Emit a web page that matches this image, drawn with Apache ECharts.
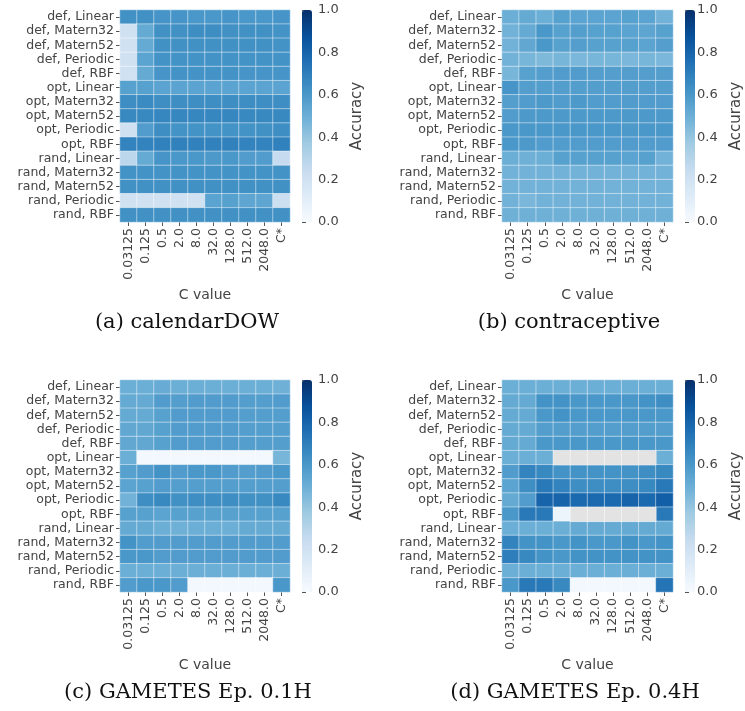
<!DOCTYPE html>
<html>
<head>
<meta charset="utf-8">
<script src="https://cdn.jsdelivr.net/npm/echarts@6/dist/echarts.min.js"></script>
<style>html,body{margin:0;padding:0;background:#fff;}#chart{width:745px;height:711px;}</style>
</head>
<body>
<div id="chart"></div>
<script>
const rowLabels = ['def, Linear','def, Matern32','def, Matern52','def, Periodic','def, RBF',
  'opt, Linear','opt, Matern32','opt, Matern52','opt, Periodic','opt, RBF',
  'rand, Linear','rand, Matern32','rand, Matern52','rand, Periodic','rand, RBF'];
const cLabels = ['0.03125','0.125','0.5','2.0','8.0','32.0','128.0','512.0','2048.0','C*'];
const colorbarTicks = [0, 0.2, 0.4, 0.6, 0.8, 1.0];
const captions = ['(a) calendarDOW', '(b) contraceptive', '(c) GAMETES Ep. 0.1H', '(d) GAMETES Ep. 0.4H'];

// null = missing result (drawn grey)
const accCalendarDOW = [
  [0.63,0.63,0.61,0.61,0.60,0.60,0.61,0.60,0.60,0.61],
  [0.20,0.52,0.63,0.63,0.64,0.64,0.63,0.63,0.63,0.62],
  [0.20,0.52,0.63,0.63,0.63,0.63,0.63,0.63,0.63,0.62],
  [0.20,0.55,0.62,0.62,0.62,0.62,0.62,0.62,0.62,0.62],
  [0.20,0.52,0.61,0.62,0.62,0.62,0.62,0.61,0.61,0.61],
  [0.56,0.56,0.55,0.55,0.55,0.55,0.55,0.55,0.55,0.55],
  [0.64,0.65,0.64,0.64,0.64,0.64,0.64,0.64,0.64,0.64],
  [0.66,0.66,0.67,0.67,0.67,0.67,0.67,0.66,0.66,0.66],
  [0.20,0.58,0.64,0.62,0.62,0.62,0.62,0.62,0.63,0.64],
  [0.68,0.68,0.69,0.69,0.69,0.69,0.69,0.68,0.68,0.69],
  [0.28,0.52,0.61,0.60,0.60,0.59,0.60,0.58,0.58,0.25],
  [0.62,0.62,0.62,0.62,0.62,0.62,0.62,0.62,0.62,0.62],
  [0.63,0.63,0.63,0.63,0.63,0.63,0.63,0.63,0.63,0.63],
  [0.20,0.20,0.20,0.20,0.20,0.55,0.56,0.54,0.54,0.22],
  [0.63,0.63,0.63,0.63,0.63,0.63,0.63,0.63,0.63,0.63]
];
const accContraceptive = [
  [0.50,0.52,0.50,0.56,0.55,0.55,0.55,0.56,0.55,0.48],
  [0.48,0.52,0.60,0.56,0.57,0.56,0.56,0.55,0.54,0.56],
  [0.48,0.53,0.60,0.56,0.57,0.56,0.56,0.56,0.55,0.57],
  [0.48,0.47,0.45,0.47,0.46,0.47,0.47,0.46,0.47,0.46],
  [0.47,0.56,0.57,0.58,0.58,0.57,0.57,0.57,0.57,0.57],
  [0.61,0.57,0.57,0.57,0.57,0.57,0.57,0.57,0.57,0.57],
  [0.57,0.58,0.59,0.58,0.59,0.58,0.58,0.58,0.58,0.58],
  [0.58,0.59,0.59,0.59,0.59,0.59,0.59,0.59,0.59,0.59],
  [0.60,0.60,0.60,0.60,0.60,0.60,0.60,0.59,0.60,0.60],
  [0.60,0.59,0.58,0.58,0.58,0.58,0.58,0.58,0.58,0.58],
  [0.50,0.49,0.50,0.56,0.56,0.56,0.56,0.55,0.56,0.48],
  [0.48,0.48,0.48,0.48,0.48,0.48,0.48,0.48,0.48,0.48],
  [0.48,0.48,0.48,0.48,0.48,0.48,0.48,0.48,0.48,0.48],
  [0.48,0.46,0.48,0.48,0.48,0.48,0.48,0.48,0.48,0.48],
  [0.49,0.49,0.49,0.49,0.49,0.49,0.49,0.49,0.49,0.49]
];
const accGametes01 = [
  [0.50,0.50,0.51,0.50,0.50,0.50,0.50,0.50,0.50,0.49],
  [0.52,0.52,0.58,0.57,0.58,0.58,0.58,0.57,0.57,0.58],
  [0.52,0.52,0.56,0.58,0.58,0.58,0.58,0.57,0.57,0.57],
  [0.53,0.53,0.56,0.58,0.58,0.58,0.58,0.57,0.57,0.57],
  [0.53,0.53,0.56,0.58,0.58,0.58,0.58,0.57,0.57,0.57],
  [0.50,0.02,0.02,0.02,0.02,0.02,0.02,0.02,0.02,0.47],
  [0.56,0.58,0.62,0.58,0.60,0.60,0.58,0.57,0.58,0.60],
  [0.55,0.56,0.58,0.57,0.57,0.57,0.57,0.57,0.57,0.57],
  [0.48,0.64,0.66,0.63,0.64,0.64,0.64,0.63,0.63,0.66],
  [0.56,0.56,0.55,0.56,0.56,0.56,0.56,0.56,0.56,0.56],
  [0.52,0.52,0.50,0.49,0.50,0.50,0.50,0.52,0.52,0.52],
  [0.62,0.58,0.58,0.58,0.58,0.58,0.58,0.58,0.58,0.58],
  [0.60,0.60,0.58,0.58,0.58,0.58,0.58,0.58,0.58,0.58],
  [0.50,0.50,0.50,0.50,0.50,0.50,0.50,0.50,0.50,0.50],
  [0.58,0.60,0.60,0.58,0.02,0.02,0.02,0.02,0.02,0.60]
];
const accGametes04 = [
  [0.50,0.50,0.50,0.50,0.50,0.50,0.50,0.50,0.50,0.50],
  [0.52,0.52,0.62,0.62,0.60,0.60,0.60,0.60,0.62,0.64],
  [0.52,0.52,0.60,0.62,0.60,0.60,0.60,0.60,0.60,0.60],
  [0.52,0.52,0.57,0.57,0.57,0.57,0.57,0.57,0.57,0.57],
  [0.52,0.52,0.60,0.60,0.60,0.60,0.60,0.60,0.60,0.60],
  [0.50,0.50,0.50,null,null,null,null,null,null,0.50],
  [0.58,0.68,0.66,0.62,0.62,0.62,0.62,0.62,0.64,0.66],
  [0.55,0.64,0.72,0.68,0.64,0.64,0.64,0.64,0.66,0.72],
  [0.52,0.58,0.80,0.80,0.78,0.78,0.78,0.80,0.78,0.82],
  [0.60,0.72,0.72,0.05,null,null,null,null,null,0.72],
  [0.50,0.50,0.50,0.50,0.52,0.52,0.52,0.52,0.52,0.52],
  [0.68,0.62,0.62,0.60,0.62,0.60,0.60,0.62,0.60,0.62],
  [0.70,0.66,0.62,0.60,0.62,0.62,0.62,0.62,0.62,0.62],
  [0.50,0.50,0.50,0.50,0.50,0.50,0.50,0.50,0.50,0.50],
  [0.60,0.72,0.72,0.66,0.02,0.02,0.02,0.02,0.02,0.74]
];

const panels = [accCalendarDOW, accContraceptive, accGametes01, accGametes04];
const blues = ['#f7fbff','#deebf7','#c6dbef','#9ecae1','#6baed6','#4292c6','#2171b5','#08519c','#08306b'];

// layout
const layout = [
  {left:120, top:10, width:170, cbLeft:302, capX:187},
  {left:502, top:10, width:171, cbLeft:685, capX:569},
  {left:120, top:380, width:170, cbLeft:302, capX:188},
  {left:502, top:380, width:171, cbLeft:685, capX:575}
];
const H = 212;
const txt = '#444';
const font = 'DejaVu Sans';

const grid = [], xAxis = [], yAxis = [], series = [], visualMap = [], graphic = [];
panels.forEach((vals, p) => {
  const L = layout[p];
  // heatmap grid
  grid.push({left:L.left, top:L.top, width:L.width, height:H});
  xAxis.push({type:'category', gridIndex:2*p, data:cLabels,
    axisLine:{show:false}, axisTick:{show:true, alignWithLabel:true, length:4, lineStyle:{color:'#555'}},
    axisLabel:{rotate:90, interval:0, color:txt, fontSize:12.5, fontFamily:font, margin:6},
    splitLine:{show:false},
    name:'C value', nameLocation:'middle', nameGap:66,
    nameTextStyle:{color:txt, fontSize:14, fontFamily:font}});
  yAxis.push({type:'category', gridIndex:2*p, data:rowLabels, inverse:true,
    axisLine:{show:false}, axisTick:{show:true, alignWithLabel:true, length:4, lineStyle:{color:'#555'}},
    axisLabel:{interval:0, color:txt, fontSize:12.5, fontFamily:font, margin:6},
    splitLine:{show:false}});
  // colorbar axis grid
  grid.push({left:L.cbLeft, top:L.top, width:10, height:H});
  xAxis.push({type:'value', gridIndex:2*p+1, show:false, min:0, max:1});
  yAxis.push({type:'value', gridIndex:2*p+1, position:'right', min:colorbarTicks[0],
    max:colorbarTicks[colorbarTicks.length-1], interval:0.2,
    axisLine:{show:false}, axisTick:{show:true, length:4, lineStyle:{color:'#555'}},
    axisLabel:{color:txt, fontSize:13, fontFamily:font, margin:6, formatter:v => v.toFixed(1)},
    splitLine:{show:false},
    name:'Accuracy', nameLocation:'middle', nameGap:38, nameRotate:90,
    nameTextStyle:{color:txt, fontSize:15, fontFamily:font}});

  const data = [], nanData = [];
  vals.forEach((row, r) => row.forEach((v, c) => {
    if (v === null) nanData.push([c, r, 0]);
    else data.push([c, r, v]);
  }));
  const sIdx = series.length;
  series.push({type:'heatmap', xAxisIndex:2*p, yAxisIndex:2*p, data:data,
    itemStyle:{borderColor:'rgba(255,255,255,0.45)', borderWidth:1},
    emphasis:{disabled:true}, silent:true});
  series.push({type:'heatmap', xAxisIndex:2*p, yAxisIndex:2*p, data:nanData,
    itemStyle:{color:'#e3e3e3', borderColor:'rgba(255,255,255,0.45)', borderWidth:1},
    emphasis:{disabled:true}, silent:true});
  series.push({type:'line', xAxisIndex:2*p+1, yAxisIndex:2*p+1, data:[], silent:true});
  visualMap.push({type:'continuous', min:0, max:1, seriesIndex:sIdx, calculable:false,
    orient:'vertical', left:L.cbLeft, top:L.top, itemWidth:10, itemHeight:H, padding:0,
    text:null, showLabel:false, inRange:{color:blues}, hoverLink:false});
  graphic.push({type:'text', x:L.capX, y:L.top + 313,
    style:{text:captions[p], font:'21px "DejaVu Serif"', fill:'#111', textAlign:'center', textVerticalAlign:'middle'}});
});

const chart = echarts.init(document.getElementById('chart'), null, {renderer:'canvas'});
chart.setOption({animation:false, backgroundColor:'#fff', grid, xAxis, yAxis, series, visualMap, graphic});
</script>
</body>
</html>
